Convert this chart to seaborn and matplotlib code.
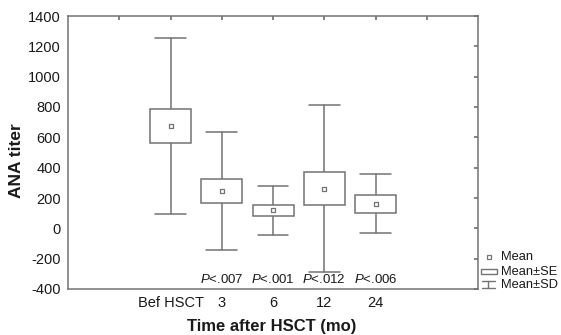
import numpy as np
import pandas as pd
import matplotlib
matplotlib.use("Agg")
import matplotlib.pyplot as plt
from matplotlib.patches import Rectangle
from matplotlib.lines import Line2D
import seaborn as sns

categories = ["Bef HSCT", "3", "6", "12", "24"]
means = [675, 245, 118, 262, 163]
se = [115, 80, 38, 110, 60]
sd = [580, 390, 162, 553, 193]
pvals = ["", "$P$<.007", "$P$<.001", "$P$<.012", "$P$<.006"]

sns.set_theme(style="white")
plt.rcParams["font.family"] = ["Liberation Sans", "DejaVu Sans"]
plt.rcParams["mathtext.fontset"] = "custom"
plt.rcParams["mathtext.it"] = "Liberation Sans:italic"
plt.rcParams["mathtext.rm"] = "Liberation Sans"
plt.rcParams["axes.unicode_minus"] = False

df = pd.DataFrame({"cat": categories, "mean": means, "se": se, "sd": sd})
df["x"] = np.arange(len(df)) + 2

LC = "#737373"
TC = "#1a1a1a"

fig = plt.figure(figsize=(5.61, 3.35), dpi=100)
ax = fig.add_axes([68/561, 1-289/335, 410/561, 273/335])

bw = 0.8
cw = 0.6
for _, r in df.iterrows():
    ax.plot([r.x, r.x], [r["mean"] - r.sd, r["mean"] + r.sd], color=LC, lw=1.1, zorder=1)
    for yy in (r["mean"] - r.sd, r["mean"] + r.sd):
        ax.plot([r.x - cw/2, r.x + cw/2], [yy, yy], color=LC, lw=1.1, zorder=1)
    ax.add_patch(Rectangle((r.x - bw/2, r["mean"] - r.se), bw, 2*r.se,
                           facecolor="white", edgecolor=LC, lw=1.1, zorder=2))

sns.scatterplot(data=df, x="x", y="mean", marker="s", s=8, facecolor="white",
                edgecolor=LC, linewidth=0.9, ax=ax, zorder=3, legend=False)

for i, r in df.iterrows():
    ax.text(r.x, -338, pvals[i], ha="center", va="center", fontsize=9.5, color=TC)

ax.set_xlim(0, 8)
ax.set_ylim(-400, 1400)
ax.set_yticks(np.arange(-400, 1401, 200))
ax.set_xticks(np.arange(1, 8))
ax.set_xticklabels(["", *categories, ""])
ax.tick_params(axis="x", which="both", bottom=False, top=True, direction="in",
               length=3, color=LC, labelsize=10.5, labelcolor=TC, pad=5)
ax.tick_params(axis="y", left=False, right=True, direction="in", length=3,
               color=LC, labelsize=10.5, labelcolor=TC, pad=5)
for s in ax.spines.values():
    s.set_color(LC)
    s.set_linewidth(1.1)
ax.set_xlabel("Time after HSCT (mo)", fontsize=12, fontweight="bold", color=TC)
ax.set_ylabel("ANA titer", fontsize=12.5, fontweight="bold", color=TC)
ax.xaxis.set_label_coords((271.5-68)/410, (289-327)/273)
ax.yaxis.set_label_coords((17-68)/410, (289-161)/273)
ax.xaxis.label.set_va("center")
ax.yaxis.label.set_va("center")

# legend drawn manually in figure pixel coords
def fx(px): return px/561
def fy(py): return 1 - py/335
fig.add_artist(Line2D([fx(489)], [fy(257)], marker="s", markersize=2.8, mfc="white",
                      mec=LC, mew=0.9, ls="none"))
fig.add_artist(Rectangle((fx(481), fy(274.3)), fx(15.7), 5.3/335, facecolor="white",
                         edgecolor=LC, lw=1.0, transform=fig.transFigure))
fig.add_artist(Line2D([fx(481.7), fx(495)], [fy(281), fy(281)], color=LC, lw=1.0))
fig.add_artist(Line2D([fx(481.7), fx(495)], [fy(288.3), fy(288.3)], color=LC, lw=1.0))
fig.add_artist(Line2D([fx(488.3), fx(488.3)], [fy(281), fy(288.3)], color=LC, lw=1.0))
for txt, py in (("Mean", 257.5), ("Mean±SE", 272), ("Mean±SD", 285.5)):
    fig.text(fx(501), fy(py), txt, fontsize=9.3, color=TC, va="center", ha="left")

fig.savefig("out.png", dpi=100)
